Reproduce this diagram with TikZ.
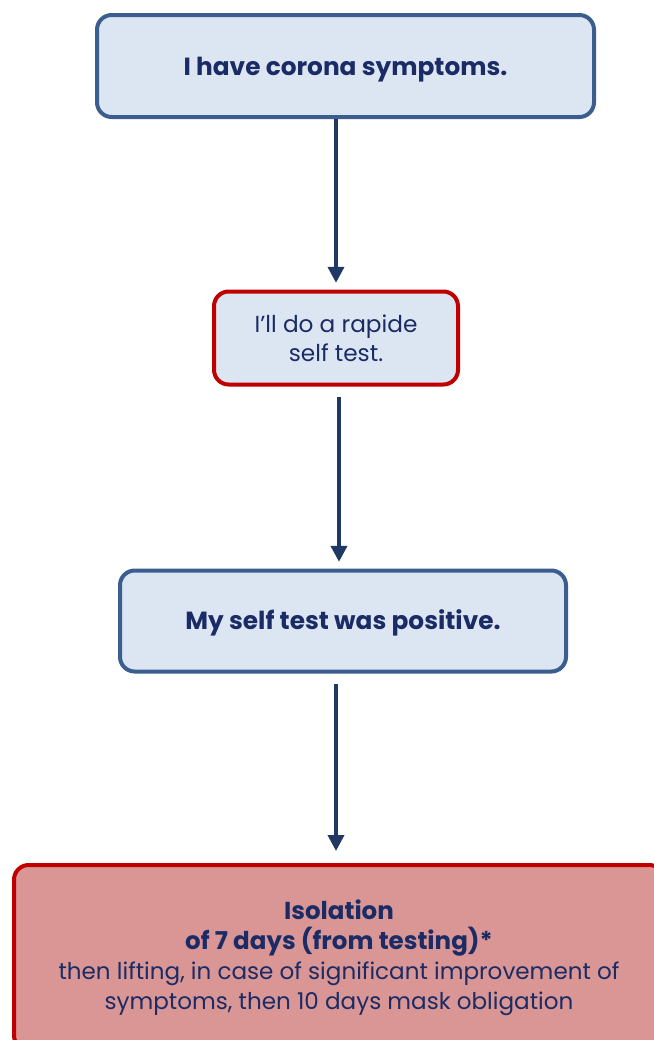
\documentclass[tikz,border=0pt]{standalone}
\usepackage{fontspec}
\setmainfont{Poppins}
\usetikzlibrary{arrows.meta}
\definecolor{boxblue}{HTML}{DCE6F2}
\definecolor{edgeblue}{HTML}{3C5E8E}
\definecolor{edgered}{HTML}{C00000}
\definecolor{fillred}{HTML}{D99694}
\definecolor{txt}{HTML}{1B2B65}
\definecolor{arr}{HTML}{1F3864}
\tikzset{
  box/.style={draw, line width=3pt, rounded corners=11pt, fill=boxblue, text=txt, align=center, inner sep=0pt},
  bluebox/.style={box, draw=edgeblue},
  redbox/.style={box, draw=edgered},
  flow/.style={draw=arr, line width=2.8pt, -{Triangle[length=12pt,width=12pt]}},
}
\begin{document}
\begin{tikzpicture}[x=0.75pt,y=-0.75pt]
\useasboundingbox (0,0) rectangle (654,1040);
\node[bluebox, minimum width=372.75pt, minimum height=76.5pt, text height=19.5pt, text depth=5pt, font=\fontsize{18.6}{22}\selectfont\bfseries] (a) at (345.5,66) {I have corona symptoms.};
\node[redbox, minimum width=183pt, minimum height=69.75pt, font=\fontsize{17.4}{22}\selectfont] (b) at (336,338) {I'll do a rapide\\ self test.};
\node[bluebox, minimum width=334.5pt, minimum height=75.75pt, text height=17.5pt, text depth=5pt, font=\fontsize{18.6}{22}\selectfont\bfseries] (c) at (343,621) {My self test was positive.};
\node[redbox, fill=fillred, minimum width=487.5pt, minimum height=138.75pt, anchor=north west, font=\fontsize{17.4}{22.5}\selectfont] (d) at (12,863) {\bfseries\fontsize{18.4}{22.5}\selectfont Isolation\\ \bfseries\fontsize{18.4}{22.5}\selectfont of 7 days (from testing)*\\ \mdseries\fontsize{17.3}{22.5}\selectfont then lifting, in case of significant improvement of\\ \mdseries\fontsize{17.3}{22.5}\selectfont symptoms, then 10 days mask obligation};
\draw[flow, shorten >=5pt] (a.south -| b.north) -- (b.north);
\draw[flow, shorten <=8pt, shorten >=5pt] ([xshift=2.25pt]b.south) -- ([xshift=2.25pt]b.south |- c.north);
\draw[flow, shorten <=8pt, shorten >=9pt] (c.south -| b.south) -- (b.south |- d.north);
\end{tikzpicture}
\end{document}
